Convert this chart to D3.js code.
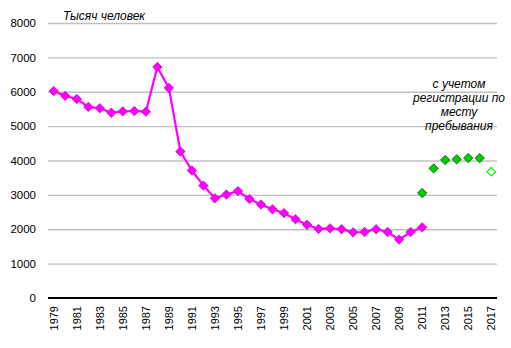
<!DOCTYPE html>
<html>
<head>
<meta charset="utf-8">
<script src="https://cdn.jsdelivr.net/npm/d3@7"></script>
<style>
  html, body { margin: 0; padding: 0; background: #fff; }
  svg { display: block; font-family: Arial, "Liberation Sans", sans-serif; }
</style>
</head>
<body>
<svg id="chart" width="511" height="348"></svg>
<script>
// Years on the category axis
const years = d3.range(1979, 2018).map(String);

// Population, thousands of people (permanent registration), 1979–2011
const mainYears = d3.range(1979, 2012).map(String);
const mainValues = [6020, 5880, 5790, 5560, 5520, 5390, 5430, 5440, 5420, 6720,
                    6110, 4260, 3710, 3270, 2900, 3010, 3110, 2880, 2720, 2580,
                    2470, 2290, 2130, 2010, 2025, 2000, 1910, 1920, 2000, 1920,
                    1700, 1920, 2055];

// Including registration at place of stay, 2011–2016
const stayYears = ["2011", "2012", "2013", "2014", "2015", "2016"];
const stayValues = [3055, 3770, 4015, 4035, 4070, 4070];

// Estimate for 2017 (hollow marker)
const estYears = ["2017"];
const estValues = [3675];

const yTicks = [0, 1000, 2000, 3000, 4000, 5000, 6000, 7000, 8000];
const unitLabel = "Тысяч человек";
const noteLines = ["с учетом", "регистрации по", "месту", "пребывания"];

const svg = d3.select("#chart");
const m = { left: 48, right: 14, top: 23, bottom: 50 };
const W = 511, H = 348;

const x = d3.scaleBand().domain(years).range([m.left, W - m.right]);
const y = d3.scaleLinear().domain([0, 8000]).range([H - m.bottom, m.top]);
const cx = d => x(d) + x.bandwidth() / 2;

// Y axis labels
const yAxis = d3.axisLeft(y).tickValues(yTicks).tickFormat(d3.format("d"))
  .tickSize(0).tickPadding(12);
svg.append("g")
  .attr("transform", `translate(${m.left},0)`)
  .call(yAxis)
  .call(g => g.select(".domain").remove())
  .call(g => g.selectAll("text")
    .attr("font-size", "11.5px").attr("fill", "#000")
    .attr("font-family", "Arial, 'Liberation Sans', sans-serif"));

// Horizontal gridlines from a second left axis with full-width ticks
const gridAxis = d3.axisLeft(y).tickValues(yTicks.filter(t => t > 0))
  .tickSize(-(W - m.left - m.right)).tickFormat("");
svg.append("g")
  .attr("class", "gridlines")
  .attr("transform", `translate(${m.left},0)`)
  .call(gridAxis)
  .call(g => g.select(".domain").remove())
  .call(g => g.selectAll(".tick line")
    .style("stroke", "#c0c0c0")
    .style("stroke-width", "1.3px"));

// X axis with rotated year labels
const xAxis = d3.axisBottom(x).tickSize(0).tickPadding(0);
svg.append("g")
  .attr("transform", `translate(0,${y(0)})`)
  .call(xAxis)
  .call(g => g.select(".domain")
    .attr("stroke", "#000").attr("stroke-width", 2)
    .attr("d", `M${m.left},0H${W - m.right}`))
  .call(g => g.selectAll(".tick text")
    .attr("font-size", "11px").attr("fill", "#000")
    .attr("font-family", "Arial, 'Liberation Sans', sans-serif")
    .attr("text-anchor", "end")
    .attr("dy", "0.35em")
    .attr("transform", "translate(0,8) rotate(-90)")
    .attr("x", 0).attr("y", 0)
    .style("display", (d, i) => i % 2 === 0 ? null : "none"));

// Main series line
const mainData = mainYears.map((yr, i) => ({ yr, v: mainValues[i] }));
svg.append("path")
  .datum(mainData)
  .attr("fill", "none")
  .attr("stroke", "#ff00ff")
  .attr("stroke-width", 2.2)
  .attr("stroke-linejoin", "round")
  .attr("d", d3.line().x(d => cx(d.yr)).y(d => y(d.v)));

const diamond = d3.symbol().type(d3.symbolDiamond2).size(56);

svg.append("g")
  .selectAll("path")
  .data(mainData)
  .join("path")
  .attr("d", diamond)
  .attr("transform", d => `translate(${cx(d.yr)},${y(d.v)})`)
  .attr("fill", "#ff00ff")
  .attr("stroke", "#cc00cc")
  .attr("stroke-width", 0.8);

// Series including stay registration (markers only)
svg.append("g")
  .selectAll("path")
  .data(stayYears.map((yr, i) => ({ yr, v: stayValues[i] })))
  .join("path")
  .attr("d", diamond)
  .attr("transform", d => `translate(${cx(d.yr)},${y(d.v)})`)
  .attr("fill", "#00cc00")
  .attr("stroke", "#006600")
  .attr("stroke-width", 0.8);

// Hollow estimate marker
svg.append("g")
  .selectAll("path")
  .data(estYears.map((yr, i) => ({ yr, v: estValues[i] })))
  .join("path")
  .attr("d", d3.symbol().type(d3.symbolDiamond2).size(48))
  .attr("transform", d => `translate(${cx(d.yr)},${y(d.v)})`)
  .attr("fill", "#fff")
  .attr("stroke", "#00ff00")
  .attr("stroke-width", 1.2);

// Unit label
svg.append("text")
  .attr("x", 63).attr("y", 20)
  .attr("font-size", "12px").attr("font-style", "italic")
  .attr("fill", "#000")
  .text(unitLabel);

// Note on the right
svg.append("text")
  .attr("x", 459).attr("y", 88)
  .attr("text-anchor", "middle")
  .attr("font-size", "12px").attr("font-style", "italic")
  .attr("fill", "#000")
  .selectAll("tspan")
  .data(noteLines)
  .join("tspan")
  .attr("x", 459)
  .attr("dy", (d, i) => i === 0 ? 0 : 14)
  .text(d => d);
</script>
</body>
</html>
